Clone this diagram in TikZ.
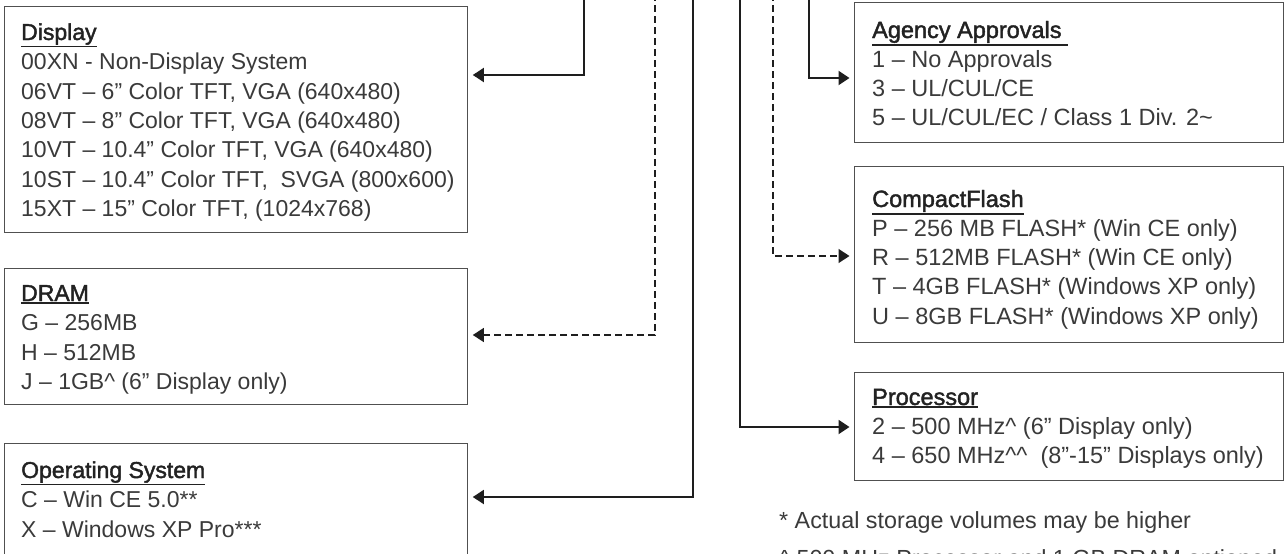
\documentclass[tikz,border=0pt]{standalone}
\usepackage{fontspec}
\setmainfont{Liberation Sans}
\newfontfamily\hdfont[FakeBold=1.8]{Liberation Sans}
\usetikzlibrary{arrows.meta}
\definecolor{txtc}{HTML}{3A3A3A}
\definecolor{hdc}{HTML}{222222}
\definecolor{linec}{HTML}{1E1E1E}
\definecolor{boxc}{HTML}{505050}
\newcommand\hd[1]{{\hdfont\color{hdc}\setbox0\hbox{#1}\rlap{\vrule width\wd0 height\dimexpr-\dp0-0.8pt\relax depth\dimexpr\dp0+2.7pt\relax}\box0}}
\newcommand\lines[1]{\begin{tabular}[t]{@{}l@{}}#1\end{tabular}}
\begin{document}
\begin{tikzpicture}[x=1pt,y=-1pt,
  box/.style={draw=boxc,line width=1.3pt,anchor=north west,inner sep=0pt},
  txt/.style={anchor=base west,inner sep=0pt,text=txtc,font=\fontsize{23}{29.5}\selectfont},
  txtr/.style={anchor=base west,inner sep=0pt,text=txtc,font=\fontsize{23.5}{29.3}\selectfont},
  foot/.style={anchor=base west,inner sep=0pt,text=txtc,font=\fontsize{23.3}{28}\selectfont},
  conn/.style={draw=linec,line width=1.9pt,-{Triangle[length=11pt,width=14pt]},shorten >=4.5pt},
  dconn/.style={draw=linec,line width=1.3pt,dash pattern=on 7pt off 4pt,-{Triangle[length=11pt,width=14pt]},shorten >=4.5pt}]
\useasboundingbox (0,0) rectangle (1286,554);

% left boxes
\node[box,minimum width=463pt,minimum height=226pt] (display) at (4,6) {};
\node[box,minimum width=463pt,minimum height=136pt] (dram) at (4,268) {};
\node[box,minimum width=463pt,minimum height=140pt] (os) at (4,443) {};
% right boxes
\node[box,minimum width=429pt,minimum height=140pt] (agency) at (854,2) {};
\node[box,minimum width=429pt,minimum height=176pt] (cf) at (854,166) {};
\node[box,minimum width=429pt,minimum height=108pt] (proc) at (854,372) {};

% texts
\node[txt] (displaytxt) at (21,40) {\lines{\hd{Display}\\
00XN - Non-Display System\\
06VT – 6” Color TFT, VGA (640x480)\\
08VT – 8” Color TFT, VGA (640x480)\\
10VT – 10.4” Color TFT, VGA (640x480)\\
10ST – 10.4” Color TFT, \ SVGA (800x600)\\
15XT – 15” Color TFT, (1024x768)}};
\node[txt] (dramtxt) at (21,301) {\lines{\hd{DRAM}\\
G – 256MB\\
H – 512MB\\
J – 1GB\textasciicircum\ (6” Display only)}};
\node[txt] (ostxt) at (21,478) {\lines{\hd{Operating System}\\
C – Win CE 5.0**\\
X – Windows XP Pro***}};
\node[txtr] (agencytxt) at (872,38) {\lines{\hd{Agency Approvals\ }\\
1 – No Approvals\\
3 – UL/CUL/CE\\
5 – UL/CUL/EC / Class 1 Div. 2\textasciitilde}};
\node[txtr] (cftxt) at (872,207) {\lines{\hd{CompactFlash}\\
P – 256 MB FLASH* (Win CE only)\\
R – 512MB FLASH* (Win CE only)\\
T – 4GB FLASH* (Windows XP only)\\
U – 8GB FLASH* (Windows XP only)}};
\node[txtr] (proctxt) at (872,405) {\lines{\hd{Processor}\\
2 – 500 MHz\textasciicircum\ (6” Display only)\\
4 – 650 MHz\textasciicircum\textasciicircum\ \ (8”-15” Displays only)}};

% footnotes
\node[foot] (fn1) at (779,528) {* Actual storage volumes may be higher};
\node[foot] (fn2) at (779,566) {\textasciicircum\ 500 MHz Processor and 1 GB DRAM optioned};

% connector sources (off the top edge)
\coordinate (cdisp) at (584,-6);
\coordinate (cdram) at (655,-6);
\coordinate (cos) at (693,-6);
\coordinate (cproc) at (740,-6);
\coordinate (ccf) at (773,-6);
\coordinate (cagency) at (809,-6);

\draw[conn] (cdisp) |- (display.east |- 0,75);
\draw[dconn] (cdram) |- (dram.east |- 0,335);
\draw[conn] (cos) |- (os.east |- 0,497);
\draw[conn] (cproc) |- (proc.west |- 0,427);
\draw[dconn] (ccf) |- (cf.west |- 0,256);
\draw[conn] (cagency) |- (agency.west |- 0,78);
\end{tikzpicture}
\end{document}
